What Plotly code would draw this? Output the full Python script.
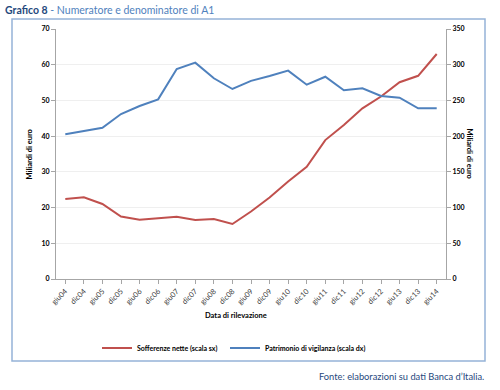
import plotly.graph_objects as go

periods = ["giu04", "dic04", "giu05", "dic05", "giu06", "dic06", "giu07", "dic07",
           "giu08", "dic08", "giu09", "dic09", "giu10", "dic10", "giu11", "dic11",
           "giu12", "dic12", "giu13", "dic13", "giu14"]
sofferenze = [22.4, 22.9, 21.0, 17.5, 16.6, 17.0, 17.4, 16.5, 16.8, 15.4, 18.9,
              22.8, 27.3, 31.4, 38.9, 43.1, 47.8, 51.1, 55.1, 56.9, 63.0]
patrimonio = [202.6, 207.6, 211.8, 231.0, 242.2, 251.5, 294.0, 302.9, 281.0, 266.0,
              277.4, 284.2, 291.7, 272.0, 283.2, 264.2, 267.0, 256.2, 253.8, 239.0, 239.0]

RED = "#C0504D"
BLUE = "#4F81BD"
FONT = "Lato"

W, H = 500, 390
L, T = 56, 29
R = W - 446
B = H - 279
pw, ph = W - L - R, H - T - B

def px(x):
    return (x - L) / pw

def py(y):
    return (H - B - y) / ph

fig = go.Figure()
fig.add_trace(go.Scatter(x=periods, y=sofferenze, mode="lines", name="<b>Sofferenze nette (scala sx)</b>",
                         line=dict(color=RED, width=2), yaxis="y", legend="legend"))
fig.add_trace(go.Scatter(x=periods, y=patrimonio, mode="lines", name="<b>Patrimonio di vigilanza (scala dx)</b>",
                         line=dict(color=BLUE, width=2), yaxis="y2", legend="legend2"))

leg_common = dict(orientation="h", yanchor="middle", xanchor="left",
                  font=dict(size=7, family=FONT), itemwidth=30, bgcolor="rgba(0,0,0,0)")

fig.update_layout(
    width=W, height=H,
    margin=dict(l=L, r=R, t=T, b=B, autoexpand=False),
    paper_bgcolor="white", plot_bgcolor="white",
    font=dict(family=FONT, size=8, color="black"),
    showlegend=True,
    legend=dict(x=px(97), y=py(348), **leg_common),
    legend2=dict(x=px(225), y=py(348), **leg_common),
    xaxis=dict(type="category", range=[-0.5, 20.5], showgrid=False, showline=True, automargin=False,
               linecolor="#a6a6a6", linewidth=1, ticks="outside", ticklen=4, tickcolor="#a6a6a6",
               tickangle=-45, tickfont=dict(size=7.5, color="#404040")),
    yaxis=dict(range=[0, 70], dtick=10, showgrid=True, gridcolor="#efefef", gridwidth=1, automargin=False,
               showline=True, linecolor="#a6a6a6", linewidth=1, ticks="outside", ticklen=4,
               tickcolor="#a6a6a6", tickfont=dict(size=7), zeroline=False,
               tickprefix="<b>", ticksuffix="</b>"),
    yaxis2=dict(range=[0, 350], dtick=50, overlaying="y", side="right", showgrid=False, automargin=False,
                showline=True, linecolor="#a6a6a6", linewidth=1, ticks="outside", ticklen=4,
                tickcolor="#a6a6a6", tickfont=dict(size=7), zeroline=False,
                tickprefix="<b>", ticksuffix="</b>"),
)

# outer frame
fig.add_shape(type="rect", xref="paper", yref="paper",
              x0=px(12), x1=px(485), y0=py(361), y1=py(19),
              line=dict(color="#95B3D7", width=1.5), layer="below")

# axis titles
fig.add_annotation(xref="paper", yref="paper", x=px(22), y=py(154), text="<b>Miliardi di euro</b>",
                   textangle=-90, showarrow=False, font=dict(size=7.5, family=FONT))
fig.add_annotation(xref="paper", yref="paper", x=px(476), y=py(154), text="<b>Miliardi di euro</b>",
                   textangle=90, showarrow=False, font=dict(size=7.5, family=FONT))
fig.add_annotation(xref="paper", yref="paper", x=px(235.5), y=py(322), text="<b>Data di rilevazione</b>",
                   showarrow=False, font=dict(size=7.5, family=FONT))

fig.add_annotation(xref="paper", yref="paper", x=px(3), y=py(10), xanchor="left", yanchor="middle",
                   text="<b><span style='color:#1F497D'>Grafico 8</span></b><span style='color:#4F81BD'> - Numeratore e denominatore di A1</span>",
                   showarrow=False, font=dict(size=10.5, family=FONT))

fig.add_annotation(xref="paper", yref="paper", x=px(486), y=py(376), xanchor="right", yanchor="middle",
                   text="Fonte: elaborazioni su dati Banca d\u2019Italia.",
                   showarrow=False, font=dict(size=9.3, family=FONT, color="#1F497D"))

fig.write_html("out.html", config={"displayModeBar": False},
               post_script="document.body.style.margin='0px';")
